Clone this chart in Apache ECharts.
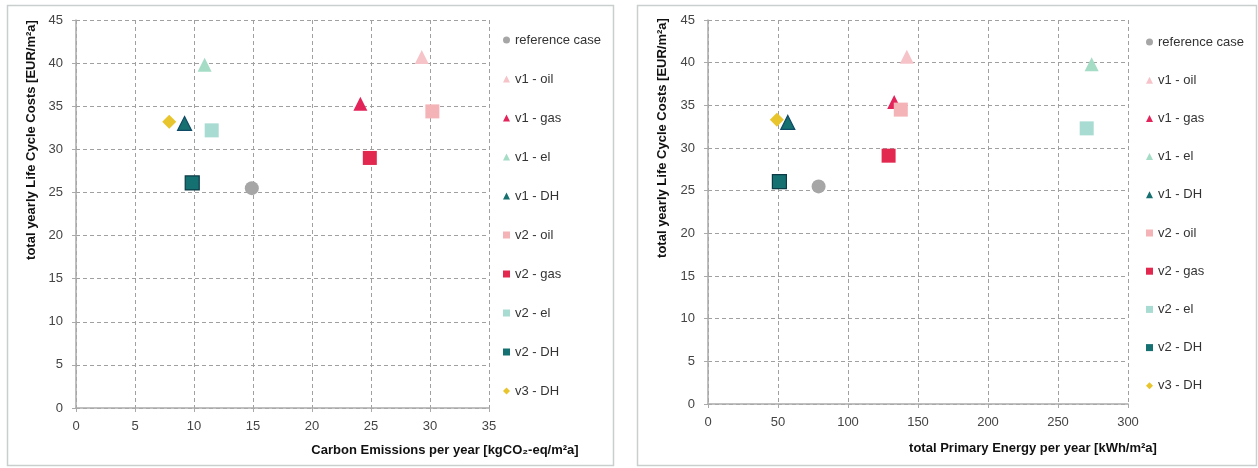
<!DOCTYPE html>
<html>
<head>
<meta charset="utf-8">
<script src="https://cdn.jsdelivr.net/npm/echarts@6/dist/echarts.min.js"></script>
<style>
  html, body { margin: 0; padding: 0; background: #ffffff; }
  #chart { width: 1258px; height: 468px; }
</style>
</head>
<body>
<div id="chart"></div>
<script>
// Variants compared in both panels
const variants = ['reference case', 'v1 - oil', 'v1 - gas', 'v1 - el', 'v1 - DH',
                  'v2 - oil', 'v2 - gas', 'v2 - el', 'v2 - DH', 'v3 - DH'];

// Total yearly life cycle costs [EUR/m²a]
const lifeCycleCosts = [25.5, 40.7, 35.3, 39.8, 33.0, 34.4, 29.0, 32.2, 26.1, 33.2];
// Right panel reads slightly different cost positions
const lifeCycleCostsPE = [25.5, 40.7, 35.4, 39.8, 33.0, 34.5, 29.1, 32.3, 26.05, 33.3];

// Carbon emissions per year [kgCO2-eq/m²a]
const carbonEmissions = [14.9, 29.3, 24.1, 10.9, 9.2, 30.2, 24.9, 11.5, 9.85, 7.9];

// Total primary energy per year [kWh/m²a]
const primaryEnergy = [79, 142, 133, 274, 57, 137.7, 129, 270.5, 51, 49.2];

// Tick labels
const costTicks = [0, 5, 10, 15, 20, 25, 30, 35, 40, 45];
const carbonTicks = [0, 5, 10, 15, 20, 25, 30, 35];
const energyTicks = [0, 50, 100, 150, 200, 250, 300];

const symbols = ['circle', 'triangle', 'triangle', 'triangle', 'triangle',
                 'rect', 'rect', 'rect', 'rect', 'diamond'];
const colors = ['#a6a6a6', '#f6c3c9', '#e3245a', '#a4dcc6', '#16706f',
                '#f4b3b6', '#e2284f', '#a8dbd2', '#157072', '#e8c52c'];
const borders = [null, null, null, null, '#0f4a66', null, null, null, '#0c3a45', null];
const sizes = [14, 14, 14, 14, 14, 14, 14, 14, 14, 14];

const FONT = 'Liberation Sans';
const tickColor = '#444';
const gridColor = '#a0a0a0';

function makeSeries(xs, ys, axisIdx) {
  return variants.map((name, i) => ({
    name: name,
    type: 'scatter',
    xAxisIndex: axisIdx,
    yAxisIndex: axisIdx,
    symbol: symbols[i],
    symbolSize: sizes[i],
    itemStyle: {
      color: colors[i],
      borderColor: borders[i] || colors[i],
      borderWidth: borders[i] ? 1.2 : 0,
      opacity: 1
    },
    emphasis: { disabled: true },
    data: [[xs[i], ys[i]]]
  }));
}

function xAxis(gridIndex, ticks) {
  return {
    type: 'value',
    gridIndex: gridIndex,
    min: ticks[0],
    max: ticks[ticks.length - 1],
    interval: ticks[1] - ticks[0],
    axisLine: { show: true, onZero: false, lineStyle: { color: '#aaaaaa', width: 1.5 } },
    axisTick: { show: true, length: 4, lineStyle: { color: '#aaaaaa' } },
    axisLabel: { color: tickColor, fontFamily: FONT, fontSize: 13, margin: 12 },
    splitLine: { show: true, lineStyle: { color: gridColor, type: [4, 3], width: 1 } }
  };
}

function yAxis(gridIndex, ticks) {
  return {
    type: 'value',
    gridIndex: gridIndex,
    min: ticks[0],
    max: ticks[ticks.length - 1],
    interval: ticks[1] - ticks[0],
    axisLine: { show: true, onZero: false, lineStyle: { color: '#aaaaaa', width: 1.5 } },
    axisTick: { show: true, length: 4, lineStyle: { color: '#aaaaaa' } },
    axisLabel: { color: tickColor, fontFamily: FONT, fontSize: 13, margin: 13 },
    splitLine: { show: true, lineStyle: { color: gridColor, type: [4, 3], width: 1 } }
  };
}

function legend(left, top, gap) {
  return {
    orient: 'vertical',
    left: left,
    top: top,
    itemWidth: 7,
    itemHeight: 7,
    itemGap: gap,
    selectedMode: false,
    itemStyle: { borderWidth: 0 },
    textStyle: { fontFamily: FONT, fontSize: 13, color: '#333', lineHeight: 14 },
    data: variants.map((name, i) => ({ name: name, icon: symbols[i] }))
  };
}

const chart = echarts.init(document.getElementById('chart'), null, { renderer: 'canvas' });

chart.setOption({
  animation: false,
  backgroundColor: '#ffffff',
  grid: [
    { left: 76, right: 769, top: 20, bottom: 60 },
    { left: 708, right: 130, top: 20, bottom: 64 }
  ],
  xAxis: [xAxis(0, carbonTicks), xAxis(1, energyTicks)],
  yAxis: [yAxis(0, costTicks), yAxis(1, costTicks)],
  legend: [legend(498, 28, 25), legend(1141, 30, 24.2)],
  graphic: [
    // panel frames
    { type: 'rect', shape: { x: 7.5, y: 5.5, width: 606, height: 460 },
      style: { fill: null, stroke: '#c9cfcf', lineWidth: 1.5 }, silent: true },
    { type: 'rect', shape: { x: 637.5, y: 5.5, width: 619, height: 460 },
      style: { fill: null, stroke: '#c9cfcf', lineWidth: 1.5 }, silent: true },
    // axis titles
    { type: 'text', x: 445, y: 450, silent: true,
      style: { text: 'Carbon Emissions per year [kgCO₂-eq/m²a]', fontFamily: FONT, fontWeight: 'bold',
               fontSize: 13, fill: '#111', align: 'center', verticalAlign: 'middle' } },
    { type: 'text', x: 1033, y: 448, silent: true,
      style: { text: 'total Primary Energy per year [kWh/m²a]', fontFamily: FONT, fontWeight: 'bold',
               fontSize: 13, fill: '#111', align: 'center', verticalAlign: 'middle' } },
    { type: 'text', x: 31, y: 140, rotation: Math.PI / 2, silent: true,
      style: { text: 'total yearly Life Cycle Costs [EUR/m²a]', fontFamily: FONT, fontWeight: 'bold',
               fontSize: 13, fill: '#111', align: 'center', verticalAlign: 'middle' } },
    { type: 'text', x: 662, y: 138, rotation: Math.PI / 2, silent: true,
      style: { text: 'total yearly Life Cycle Costs [EUR/m²a]', fontFamily: FONT, fontWeight: 'bold',
               fontSize: 13, fill: '#111', align: 'center', verticalAlign: 'middle' } }
  ],
  series: makeSeries(carbonEmissions, lifeCycleCosts, 0)
    .concat(makeSeries(primaryEnergy, lifeCycleCostsPE, 1))
});
</script>
</body>
</html>
